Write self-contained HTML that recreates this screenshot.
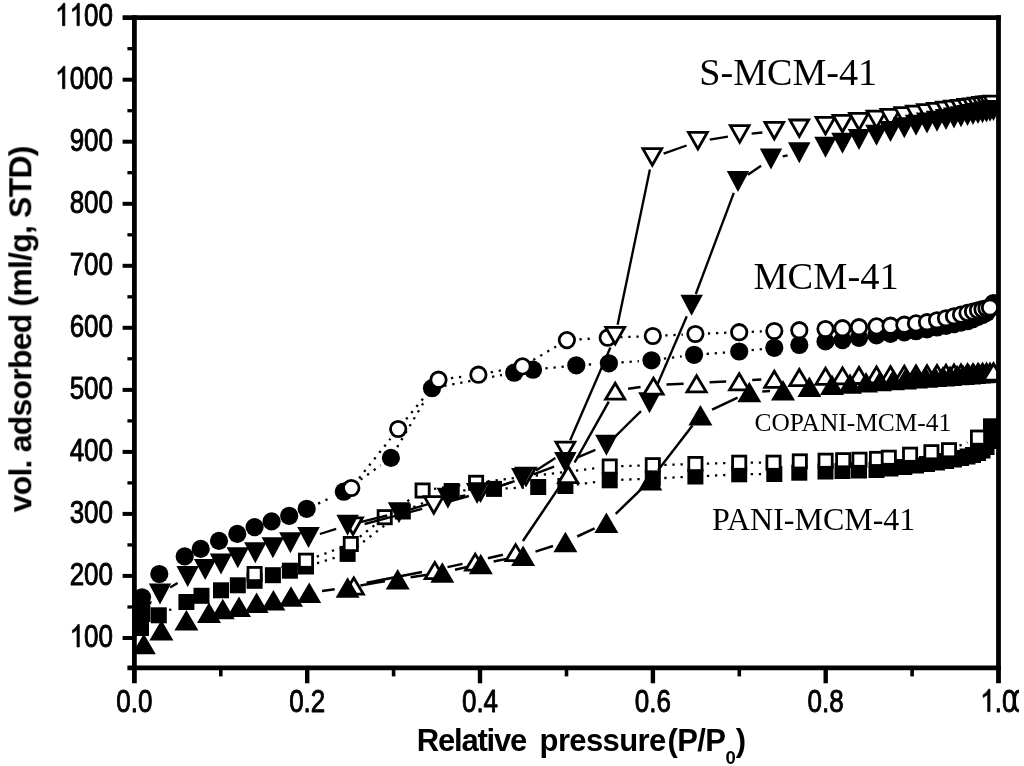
<!DOCTYPE html>
<html><head><meta charset="utf-8"><title>chart</title>
<style>html,body{margin:0;padding:0;background:#fff;}svg{display:block;}text{font-family:"Liberation Sans",sans-serif;fill:#000;}.ser{font-family:"Liberation Serif",serif;}</style>
</head><body>
<svg width="1024" height="766" viewBox="0 0 1024 766">
<defs><clipPath id="cp"><rect x="0" y="0" width="1019" height="766"/></clipPath><clipPath id="plot"><rect x="134.4" y="17.6" width="864.1" height="650.3"/></clipPath><filter id="soft" x="0" y="0" width="1024" height="766" filterUnits="userSpaceOnUse"><feGaussianBlur stdDeviation="0.55"/></filter></defs>
<rect width="1024" height="766" fill="#fff"/>
<g filter="url(#soft)">
<g clip-path="url(#plot)">
<g id="mcm">
<line x1="318.1" y1="503.6" x2="332.4" y2="496.9" stroke="#000" stroke-width="2.3" stroke-dasharray="2.3 5.8" stroke-linecap="butt"/>
<line x1="354.0" y1="484.4" x2="380.7" y2="465.2" stroke="#000" stroke-width="2.3" stroke-dasharray="2.3 5.8" stroke-linecap="butt"/>
<line x1="397.2" y1="447.1" x2="425.7" y2="399.0" stroke="#000" stroke-width="2.3" stroke-dasharray="2.3 5.8" stroke-linecap="butt"/>
<line x1="444.3" y1="385.9" x2="501.9" y2="375.0" stroke="#000" stroke-width="2.3" stroke-dasharray="2.3 5.8" stroke-linecap="butt"/>
<line x1="545.4" y1="368.4" x2="563.9" y2="366.6" stroke="#000" stroke-width="2.3" stroke-dasharray="2.3 5.8" stroke-linecap="butt"/>
<line x1="588.8" y1="364.5" x2="596.4" y2="364.1" stroke="#000" stroke-width="2.3" stroke-dasharray="2.3 5.8" stroke-linecap="butt"/>
<line x1="621.4" y1="362.4" x2="639.0" y2="361.2" stroke="#000" stroke-width="2.3" stroke-dasharray="2.3 5.8" stroke-linecap="butt"/>
<line x1="663.9" y1="358.7" x2="681.7" y2="356.4" stroke="#000" stroke-width="2.3" stroke-dasharray="2.3 5.8" stroke-linecap="butt"/>
<line x1="706.6" y1="353.9" x2="726.7" y2="352.4" stroke="#000" stroke-width="2.3" stroke-dasharray="2.3 5.8" stroke-linecap="butt"/>
<line x1="751.6" y1="350.2" x2="761.9" y2="349.1" stroke="#000" stroke-width="2.3" stroke-dasharray="2.3 5.8" stroke-linecap="butt"/>
<line x1="359.1" y1="478.2" x2="390.4" y2="438.8" stroke="#000" stroke-width="2.3" stroke-dasharray="2.3 5.8" stroke-linecap="butt"/>
<line x1="406.1" y1="419.3" x2="430.6" y2="389.4" stroke="#000" stroke-width="2.3" stroke-dasharray="2.3 5.8" stroke-linecap="butt"/>
<line x1="450.9" y1="378.1" x2="466.0" y2="376.3" stroke="#000" stroke-width="2.3" stroke-dasharray="2.3 5.8" stroke-linecap="butt"/>
<line x1="490.7" y1="372.4" x2="510.2" y2="368.7" stroke="#000" stroke-width="2.3" stroke-dasharray="2.3 5.8" stroke-linecap="butt"/>
<line x1="533.3" y1="360.0" x2="556.1" y2="346.5" stroke="#000" stroke-width="2.3" stroke-dasharray="2.3 5.8" stroke-linecap="butt"/>
<line x1="579.4" y1="339.4" x2="595.2" y2="338.4" stroke="#000" stroke-width="2.3" stroke-dasharray="2.3 5.8" stroke-linecap="butt"/>
<line x1="620.2" y1="337.2" x2="640.3" y2="336.5" stroke="#000" stroke-width="2.3" stroke-dasharray="2.3 5.8" stroke-linecap="butt"/>
<line x1="665.3" y1="335.4" x2="682.9" y2="334.6" stroke="#000" stroke-width="2.3" stroke-dasharray="2.3 5.8" stroke-linecap="butt"/>
<line x1="707.9" y1="333.5" x2="726.7" y2="332.7" stroke="#000" stroke-width="2.3" stroke-dasharray="2.3 5.8" stroke-linecap="butt"/>
<line x1="751.7" y1="331.8" x2="761.8" y2="331.4" stroke="#000" stroke-width="2.3" stroke-dasharray="2.3 5.8" stroke-linecap="butt"/>
<circle cx="142.0" cy="597.3" r="9.1" fill="#000"/>
<circle cx="159.3" cy="574.0" r="9.1" fill="#000"/>
<circle cx="184.7" cy="556.4" r="9.1" fill="#000"/>
<circle cx="200.7" cy="548.9" r="9.1" fill="#000"/>
<circle cx="219.0" cy="540.9" r="9.1" fill="#000"/>
<circle cx="237.3" cy="533.9" r="9.1" fill="#000"/>
<circle cx="254.6" cy="527.1" r="9.1" fill="#000"/>
<circle cx="271.6" cy="521.4" r="9.1" fill="#000"/>
<circle cx="289.2" cy="515.8" r="9.1" fill="#000"/>
<circle cx="306.7" cy="508.8" r="9.1" fill="#000"/>
<circle cx="343.8" cy="491.7" r="9.1" fill="#000"/>
<circle cx="390.9" cy="457.9" r="9.1" fill="#000"/>
<circle cx="432.0" cy="388.2" r="9.1" fill="#000"/>
<circle cx="514.2" cy="372.7" r="9.1" fill="#000"/>
<circle cx="533.0" cy="369.7" r="9.1" fill="#000"/>
<circle cx="576.3" cy="365.3" r="9.1" fill="#000"/>
<circle cx="608.9" cy="363.3" r="9.1" fill="#000"/>
<circle cx="651.5" cy="360.3" r="9.1" fill="#000"/>
<circle cx="694.1" cy="354.8" r="9.1" fill="#000"/>
<circle cx="739.2" cy="351.5" r="9.1" fill="#000"/>
<circle cx="774.3" cy="347.8" r="9.1" fill="#000"/>
<circle cx="799.3" cy="345.0" r="9.1" fill="#000"/>
<circle cx="825.5" cy="341.4" r="9.1" fill="#000"/>
<circle cx="842.5" cy="340.1" r="9.1" fill="#000"/>
<circle cx="859.0" cy="337.8" r="9.1" fill="#000"/>
<circle cx="876.5" cy="335.3" r="9.1" fill="#000"/>
<circle cx="890.5" cy="333.8" r="9.1" fill="#000"/>
<circle cx="904.3" cy="332.4" r="9.1" fill="#000"/>
<circle cx="916.0" cy="331.2" r="9.1" fill="#000"/>
<circle cx="927.0" cy="329.3" r="9.1" fill="#000"/>
<circle cx="937.0" cy="327.5" r="9.1" fill="#000"/>
<circle cx="946.0" cy="325.8" r="9.1" fill="#000"/>
<circle cx="954.0" cy="324.1" r="9.1" fill="#000"/>
<circle cx="961.0" cy="322.6" r="9.1" fill="#000"/>
<circle cx="967.5" cy="321.2" r="9.1" fill="#000"/>
<circle cx="973.0" cy="319.1" r="9.1" fill="#000"/>
<circle cx="978.0" cy="316.9" r="9.1" fill="#000"/>
<circle cx="982.5" cy="315.0" r="9.1" fill="#000"/>
<circle cx="986.5" cy="312.9" r="9.1" fill="#000"/>
<circle cx="990.0" cy="308.5" r="9.1" fill="#000"/>
<circle cx="993.5" cy="303.0" r="9.1" fill="#000"/>
<circle cx="351.3" cy="488.0" r="7.7" fill="#fff" stroke="#000" stroke-width="2.8"/>
<circle cx="398.2" cy="429.0" r="7.7" fill="#fff" stroke="#000" stroke-width="2.8"/>
<circle cx="438.5" cy="379.7" r="7.7" fill="#fff" stroke="#000" stroke-width="2.8"/>
<circle cx="478.4" cy="374.7" r="7.7" fill="#fff" stroke="#000" stroke-width="2.8"/>
<circle cx="522.5" cy="366.4" r="7.7" fill="#fff" stroke="#000" stroke-width="2.8"/>
<circle cx="566.9" cy="340.1" r="7.7" fill="#fff" stroke="#000" stroke-width="2.8"/>
<circle cx="607.7" cy="337.7" r="7.7" fill="#fff" stroke="#000" stroke-width="2.8"/>
<circle cx="652.8" cy="336.0" r="7.7" fill="#fff" stroke="#000" stroke-width="2.8"/>
<circle cx="695.4" cy="334.0" r="7.7" fill="#fff" stroke="#000" stroke-width="2.8"/>
<circle cx="739.2" cy="332.2" r="7.7" fill="#fff" stroke="#000" stroke-width="2.8"/>
<circle cx="774.3" cy="331.0" r="7.7" fill="#fff" stroke="#000" stroke-width="2.8"/>
<circle cx="799.3" cy="330.2" r="7.7" fill="#fff" stroke="#000" stroke-width="2.8"/>
<circle cx="825.5" cy="329.0" r="7.7" fill="#fff" stroke="#000" stroke-width="2.8"/>
<circle cx="842.5" cy="328.2" r="7.7" fill="#fff" stroke="#000" stroke-width="2.8"/>
<circle cx="859.0" cy="327.2" r="7.7" fill="#fff" stroke="#000" stroke-width="2.8"/>
<circle cx="876.5" cy="326.4" r="7.7" fill="#fff" stroke="#000" stroke-width="2.8"/>
<circle cx="890.5" cy="325.7" r="7.7" fill="#fff" stroke="#000" stroke-width="2.8"/>
<circle cx="904.3" cy="324.7" r="7.7" fill="#fff" stroke="#000" stroke-width="2.8"/>
<circle cx="916.0" cy="323.4" r="7.7" fill="#fff" stroke="#000" stroke-width="2.8"/>
<circle cx="927.0" cy="322.2" r="7.7" fill="#fff" stroke="#000" stroke-width="2.8"/>
<circle cx="937.0" cy="320.3" r="7.7" fill="#fff" stroke="#000" stroke-width="2.8"/>
<circle cx="946.0" cy="318.3" r="7.7" fill="#fff" stroke="#000" stroke-width="2.8"/>
<circle cx="954.0" cy="316.3" r="7.7" fill="#fff" stroke="#000" stroke-width="2.8"/>
<circle cx="961.0" cy="314.6" r="7.7" fill="#fff" stroke="#000" stroke-width="2.8"/>
<circle cx="967.5" cy="312.9" r="7.7" fill="#fff" stroke="#000" stroke-width="2.8"/>
<circle cx="973.0" cy="311.5" r="7.7" fill="#fff" stroke="#000" stroke-width="2.8"/>
<circle cx="978.0" cy="310.3" r="7.7" fill="#fff" stroke="#000" stroke-width="2.8"/>
<circle cx="982.5" cy="309.2" r="7.7" fill="#fff" stroke="#000" stroke-width="2.8"/>
<circle cx="986.5" cy="308.3" r="7.7" fill="#fff" stroke="#000" stroke-width="2.8"/>
<circle cx="990.0" cy="307.5" r="7.7" fill="#fff" stroke="#000" stroke-width="2.8"/>
</g>
<g id="pani">
<line x1="169.2" y1="610.3" x2="176.0" y2="607.0" stroke="#000" stroke-width="2.3" stroke-dasharray="2.3 5.8" stroke-linecap="butt"/>
<line x1="317.0" y1="563.2" x2="336.6" y2="557.2" stroke="#000" stroke-width="2.3" stroke-dasharray="2.3 5.8" stroke-linecap="butt"/>
<line x1="356.7" y1="546.9" x2="393.7" y2="518.5" stroke="#000" stroke-width="2.3" stroke-dasharray="2.3 5.8" stroke-linecap="butt"/>
<line x1="413.4" y1="507.1" x2="441.1" y2="495.4" stroke="#000" stroke-width="2.3" stroke-dasharray="2.3 5.8" stroke-linecap="butt"/>
<line x1="463.2" y1="490.4" x2="482.5" y2="489.5" stroke="#000" stroke-width="2.3" stroke-dasharray="2.3 5.8" stroke-linecap="butt"/>
<line x1="505.5" y1="488.4" x2="526.7" y2="487.5" stroke="#000" stroke-width="2.3" stroke-dasharray="2.3 5.8" stroke-linecap="butt"/>
<line x1="576.8" y1="484.5" x2="598.3" y2="481.8" stroke="#000" stroke-width="2.3" stroke-dasharray="2.3 5.8" stroke-linecap="butt"/>
<line x1="621.2" y1="479.8" x2="641.3" y2="479.0" stroke="#000" stroke-width="2.3" stroke-dasharray="2.3 5.8" stroke-linecap="butt"/>
<line x1="664.3" y1="478.0" x2="683.9" y2="477.0" stroke="#000" stroke-width="2.3" stroke-dasharray="2.3 5.8" stroke-linecap="butt"/>
<line x1="706.9" y1="475.9" x2="727.7" y2="474.9" stroke="#000" stroke-width="2.3" stroke-dasharray="2.3 5.8" stroke-linecap="butt"/>
<line x1="750.7" y1="474.2" x2="762.8" y2="474.1" stroke="#000" stroke-width="2.3" stroke-dasharray="2.3 5.8" stroke-linecap="butt"/>
<line x1="265.7" y1="571.1" x2="294.9" y2="563.6" stroke="#000" stroke-width="2.3" stroke-dasharray="2.3 5.8" stroke-linecap="butt"/>
<line x1="316.8" y1="556.7" x2="340.0" y2="548.0" stroke="#000" stroke-width="2.3" stroke-dasharray="2.3 5.8" stroke-linecap="butt"/>
<line x1="359.8" y1="536.9" x2="375.7" y2="524.3" stroke="#000" stroke-width="2.3" stroke-dasharray="2.3 5.8" stroke-linecap="butt"/>
<line x1="394.1" y1="510.6" x2="413.2" y2="497.1" stroke="#000" stroke-width="2.3" stroke-dasharray="2.3 5.8" stroke-linecap="butt"/>
<line x1="434.0" y1="488.9" x2="464.7" y2="484.4" stroke="#000" stroke-width="2.3" stroke-dasharray="2.3 5.8" stroke-linecap="butt"/>
<line x1="487.5" y1="481.4" x2="598.3" y2="467.9" stroke="#000" stroke-width="2.3" stroke-dasharray="2.3 5.8" stroke-linecap="butt"/>
<line x1="621.2" y1="466.2" x2="641.3" y2="465.5" stroke="#000" stroke-width="2.3" stroke-dasharray="2.3 5.8" stroke-linecap="butt"/>
<line x1="664.3" y1="464.9" x2="683.9" y2="464.3" stroke="#000" stroke-width="2.3" stroke-dasharray="2.3 5.8" stroke-linecap="butt"/>
<line x1="706.9" y1="463.7" x2="727.7" y2="463.0" stroke="#000" stroke-width="2.3" stroke-dasharray="2.3 5.8" stroke-linecap="butt"/>
<line x1="750.7" y1="462.7" x2="762.0" y2="462.7" stroke="#000" stroke-width="2.3" stroke-dasharray="2.3 5.8" stroke-linecap="butt"/>
<line x1="959.5" y1="445.6" x2="967.5" y2="442.2" stroke="#000" stroke-width="2.3" stroke-dasharray="2.3 5.8" stroke-linecap="butt"/>
<rect x="133.0" y="620.0" width="16.0" height="16.0" fill="#000"/>
<rect x="134.5" y="606.0" width="16.0" height="16.0" fill="#000"/>
<rect x="150.8" y="607.3" width="16.0" height="16.0" fill="#000"/>
<rect x="178.4" y="594.0" width="16.0" height="16.0" fill="#000"/>
<rect x="193.5" y="587.8" width="16.0" height="16.0" fill="#000"/>
<rect x="213.0" y="582.3" width="16.0" height="16.0" fill="#000"/>
<rect x="229.8" y="577.3" width="16.0" height="16.0" fill="#000"/>
<rect x="246.6" y="572.8" width="16.0" height="16.0" fill="#000"/>
<rect x="264.9" y="567.2" width="16.0" height="16.0" fill="#000"/>
<rect x="281.9" y="562.7" width="16.0" height="16.0" fill="#000"/>
<rect x="298.0" y="558.5" width="16.0" height="16.0" fill="#000"/>
<rect x="339.6" y="545.9" width="16.0" height="16.0" fill="#000"/>
<rect x="394.8" y="503.5" width="16.0" height="16.0" fill="#000"/>
<rect x="443.7" y="483.0" width="16.0" height="16.0" fill="#000"/>
<rect x="486.0" y="480.9" width="16.0" height="16.0" fill="#000"/>
<rect x="530.2" y="479.0" width="16.0" height="16.0" fill="#000"/>
<rect x="557.4" y="478.0" width="16.0" height="16.0" fill="#000"/>
<rect x="601.7" y="472.3" width="16.0" height="16.0" fill="#000"/>
<rect x="644.8" y="470.5" width="16.0" height="16.0" fill="#000"/>
<rect x="687.4" y="468.5" width="16.0" height="16.0" fill="#000"/>
<rect x="731.2" y="466.3" width="16.0" height="16.0" fill="#000"/>
<rect x="766.3" y="466.0" width="16.0" height="16.0" fill="#000"/>
<rect x="791.3" y="464.7" width="16.0" height="16.0" fill="#000"/>
<rect x="817.5" y="463.5" width="16.0" height="16.0" fill="#000"/>
<rect x="834.5" y="463.0" width="16.0" height="16.0" fill="#000"/>
<rect x="851.0" y="462.5" width="16.0" height="16.0" fill="#000"/>
<rect x="868.5" y="462.0" width="16.0" height="16.0" fill="#000"/>
<rect x="882.5" y="460.5" width="16.0" height="16.0" fill="#000"/>
<rect x="896.3" y="459.0" width="16.0" height="16.0" fill="#000"/>
<rect x="908.0" y="457.5" width="16.0" height="16.0" fill="#000"/>
<rect x="919.0" y="456.0" width="16.0" height="16.0" fill="#000"/>
<rect x="929.0" y="454.5" width="16.0" height="16.0" fill="#000"/>
<rect x="938.0" y="453.0" width="16.0" height="16.0" fill="#000"/>
<rect x="946.0" y="451.5" width="16.0" height="16.0" fill="#000"/>
<rect x="953.0" y="450.0" width="16.0" height="16.0" fill="#000"/>
<rect x="959.5" y="448.5" width="16.0" height="16.0" fill="#000"/>
<rect x="965.0" y="447.0" width="16.0" height="16.0" fill="#000"/>
<rect x="970.0" y="445.0" width="16.0" height="16.0" fill="#000"/>
<rect x="974.5" y="442.5" width="16.0" height="16.0" fill="#000"/>
<rect x="978.5" y="439.0" width="16.0" height="16.0" fill="#000"/>
<rect x="981.0" y="433.0" width="16.0" height="16.0" fill="#000"/>
<rect x="983.0" y="418.3" width="16.0" height="16.0" fill="#000"/>
<rect x="248.0" y="567.4" width="13.2" height="13.2" fill="#fff" stroke="#000" stroke-width="2.8"/>
<rect x="299.4" y="554.1" width="13.2" height="13.2" fill="#fff" stroke="#000" stroke-width="2.8"/>
<rect x="344.2" y="537.4" width="13.2" height="13.2" fill="#fff" stroke="#000" stroke-width="2.8"/>
<rect x="378.1" y="510.6" width="13.2" height="13.2" fill="#fff" stroke="#000" stroke-width="2.8"/>
<rect x="416.0" y="483.9" width="13.2" height="13.2" fill="#fff" stroke="#000" stroke-width="2.8"/>
<rect x="469.5" y="476.2" width="13.2" height="13.2" fill="#fff" stroke="#000" stroke-width="2.8"/>
<rect x="603.1" y="459.9" width="13.2" height="13.2" fill="#fff" stroke="#000" stroke-width="2.8"/>
<rect x="646.2" y="458.6" width="13.2" height="13.2" fill="#fff" stroke="#000" stroke-width="2.8"/>
<rect x="688.8" y="457.4" width="13.2" height="13.2" fill="#fff" stroke="#000" stroke-width="2.8"/>
<rect x="732.6" y="456.1" width="13.2" height="13.2" fill="#fff" stroke="#000" stroke-width="2.8"/>
<rect x="766.9" y="456.1" width="13.2" height="13.2" fill="#fff" stroke="#000" stroke-width="2.8"/>
<rect x="793.2" y="454.8" width="13.2" height="13.2" fill="#fff" stroke="#000" stroke-width="2.8"/>
<rect x="819.0" y="454.1" width="13.2" height="13.2" fill="#fff" stroke="#000" stroke-width="2.8"/>
<rect x="836.6" y="453.6" width="13.2" height="13.2" fill="#fff" stroke="#000" stroke-width="2.8"/>
<rect x="852.9" y="453.1" width="13.2" height="13.2" fill="#fff" stroke="#000" stroke-width="2.8"/>
<rect x="870.4" y="452.3" width="13.2" height="13.2" fill="#fff" stroke="#000" stroke-width="2.8"/>
<rect x="882.2" y="451.1" width="13.2" height="13.2" fill="#fff" stroke="#000" stroke-width="2.8"/>
<rect x="903.5" y="448.1" width="13.2" height="13.2" fill="#fff" stroke="#000" stroke-width="2.8"/>
<rect x="924.8" y="445.6" width="13.2" height="13.2" fill="#fff" stroke="#000" stroke-width="2.8"/>
<rect x="942.4" y="443.6" width="13.2" height="13.2" fill="#fff" stroke="#000" stroke-width="2.8"/>
<rect x="971.4" y="431.0" width="13.2" height="13.2" fill="#fff" stroke="#000" stroke-width="2.8"/>
</g>
<g id="smcm">
<line x1="170.1" y1="587.6" x2="177.6" y2="582.9" stroke="#000" stroke-width="2.35"/>
<line x1="319.9" y1="534.0" x2="336.2" y2="528.8" stroke="#000" stroke-width="2.35"/>
<line x1="359.3" y1="522.4" x2="387.3" y2="515.5" stroke="#000" stroke-width="2.35"/>
<line x1="410.5" y1="509.3" x2="436.4" y2="501.7" stroke="#000" stroke-width="2.35"/>
<line x1="459.7" y1="496.4" x2="465.3" y2="495.5" stroke="#000" stroke-width="2.35"/>
<line x1="488.5" y1="489.8" x2="510.8" y2="482.3" stroke="#000" stroke-width="2.35"/>
<line x1="533.5" y1="474.4" x2="554.1" y2="466.7" stroke="#000" stroke-width="2.35"/>
<line x1="576.4" y1="457.9" x2="595.4" y2="449.9" stroke="#000" stroke-width="2.35"/>
<line x1="614.9" y1="436.8" x2="641.0" y2="411.1" stroke="#000" stroke-width="2.35"/>
<line x1="654.3" y1="391.7" x2="686.8" y2="316.2" stroke="#000" stroke-width="2.35"/>
<line x1="695.8" y1="294.0" x2="733.8" y2="192.8" stroke="#000" stroke-width="2.35"/>
<line x1="747.9" y1="174.8" x2="761.1" y2="165.8" stroke="#000" stroke-width="2.35"/>
<line x1="782.7" y1="156.4" x2="787.6" y2="155.4" stroke="#000" stroke-width="2.35"/>
<line x1="364.6" y1="524.0" x2="422.2" y2="508.8" stroke="#000" stroke-width="2.35"/>
<line x1="445.4" y1="502.6" x2="468.9" y2="496.0" stroke="#000" stroke-width="2.35"/>
<line x1="491.9" y1="488.9" x2="514.6" y2="481.1" stroke="#000" stroke-width="2.35"/>
<line x1="536.0" y1="470.6" x2="555.4" y2="457.9" stroke="#000" stroke-width="2.35"/>
<line x1="570.2" y1="440.3" x2="610.4" y2="347.5" stroke="#000" stroke-width="2.35"/>
<line x1="617.6" y1="324.8" x2="649.9" y2="169.4" stroke="#000" stroke-width="2.35"/>
<line x1="663.6" y1="153.7" x2="686.6" y2="145.5" stroke="#000" stroke-width="2.35"/>
<line x1="709.7" y1="139.6" x2="727.9" y2="136.6" stroke="#000" stroke-width="2.35"/>
<line x1="751.6" y1="133.6" x2="762.4" y2="132.5" stroke="#000" stroke-width="2.35"/>
<polygon points="343.6,517.9 362.4,517.9 353.0,534.4" fill="#fff" stroke="#000" stroke-width="2.8" stroke-linejoin="miter"/>
<polygon points="424.4,496.7 443.2,496.7 433.8,513.2" fill="#fff" stroke="#000" stroke-width="2.8" stroke-linejoin="miter"/>
<polygon points="471.1,483.7 489.9,483.7 480.5,500.2" fill="#fff" stroke="#000" stroke-width="2.8" stroke-linejoin="miter"/>
<polygon points="516.6,468.1 535.4,468.1 526.0,484.6" fill="#fff" stroke="#000" stroke-width="2.8" stroke-linejoin="miter"/>
<polygon points="556.0,442.2 574.8,442.2 565.4,458.7" fill="#fff" stroke="#000" stroke-width="2.8" stroke-linejoin="miter"/>
<polygon points="605.8,327.4 624.6,327.4 615.2,343.9" fill="#fff" stroke="#000" stroke-width="2.8" stroke-linejoin="miter"/>
<polygon points="642.9,148.6 661.7,148.6 652.3,165.1" fill="#fff" stroke="#000" stroke-width="2.8" stroke-linejoin="miter"/>
<polygon points="688.5,132.4 707.3,132.4 697.9,148.9" fill="#fff" stroke="#000" stroke-width="2.8" stroke-linejoin="miter"/>
<polygon points="730.3,125.6 749.1,125.6 739.7,142.1" fill="#fff" stroke="#000" stroke-width="2.8" stroke-linejoin="miter"/>
<polygon points="764.9,122.3 783.7,122.3 774.3,138.8" fill="#fff" stroke="#000" stroke-width="2.8" stroke-linejoin="miter"/>
<polygon points="789.9,120.0 808.7,120.0 799.3,136.5" fill="#fff" stroke="#000" stroke-width="2.8" stroke-linejoin="miter"/>
<polygon points="816.1,117.4 834.9,117.4 825.5,133.9" fill="#fff" stroke="#000" stroke-width="2.8" stroke-linejoin="miter"/>
<polygon points="833.1,115.3 851.9,115.3 842.5,131.8" fill="#fff" stroke="#000" stroke-width="2.8" stroke-linejoin="miter"/>
<polygon points="849.6,113.3 868.4,113.3 859.0,129.8" fill="#fff" stroke="#000" stroke-width="2.8" stroke-linejoin="miter"/>
<polygon points="867.1,111.1 885.9,111.1 876.5,127.6" fill="#fff" stroke="#000" stroke-width="2.8" stroke-linejoin="miter"/>
<polygon points="881.1,109.4 899.9,109.4 890.5,125.9" fill="#fff" stroke="#000" stroke-width="2.8" stroke-linejoin="miter"/>
<polygon points="894.9,107.6 913.7,107.6 904.3,124.1" fill="#fff" stroke="#000" stroke-width="2.8" stroke-linejoin="miter"/>
<polygon points="906.6,106.1 925.4,106.1 916.0,122.6" fill="#fff" stroke="#000" stroke-width="2.8" stroke-linejoin="miter"/>
<polygon points="917.6,104.7 936.4,104.7 927.0,121.2" fill="#fff" stroke="#000" stroke-width="2.8" stroke-linejoin="miter"/>
<polygon points="927.6,103.4 946.4,103.4 937.0,119.9" fill="#fff" stroke="#000" stroke-width="2.8" stroke-linejoin="miter"/>
<polygon points="936.6,102.2 955.4,102.2 946.0,118.8" fill="#fff" stroke="#000" stroke-width="2.8" stroke-linejoin="miter"/>
<polygon points="944.6,101.2 963.4,101.2 954.0,117.7" fill="#fff" stroke="#000" stroke-width="2.8" stroke-linejoin="miter"/>
<polygon points="951.6,100.3 970.4,100.3 961.0,116.8" fill="#fff" stroke="#000" stroke-width="2.8" stroke-linejoin="miter"/>
<polygon points="958.1,99.5 976.9,99.5 967.5,116.0" fill="#fff" stroke="#000" stroke-width="2.8" stroke-linejoin="miter"/>
<polygon points="963.6,98.8 982.4,98.8 973.0,115.3" fill="#fff" stroke="#000" stroke-width="2.8" stroke-linejoin="miter"/>
<polygon points="968.6,98.1 987.4,98.1 978.0,114.6" fill="#fff" stroke="#000" stroke-width="2.8" stroke-linejoin="miter"/>
<polygon points="973.1,97.5 991.9,97.5 982.5,114.1" fill="#fff" stroke="#000" stroke-width="2.8" stroke-linejoin="miter"/>
<polygon points="977.1,97.0 995.9,97.0 986.5,113.5" fill="#fff" stroke="#000" stroke-width="2.8" stroke-linejoin="miter"/>
<polygon points="980.6,96.6 999.4,96.6 990.0,113.1" fill="#fff" stroke="#000" stroke-width="2.8" stroke-linejoin="miter"/>
<polygon points="984.1,96.1 1002.9,96.1 993.5,112.6" fill="#fff" stroke="#000" stroke-width="2.8" stroke-linejoin="miter"/>
<polygon points="129.8,601.5 152.2,601.5 141.0,622.5" fill="#000"/>
<polygon points="148.8,583.5 171.2,583.5 160.0,604.5" fill="#000"/>
<polygon points="176.4,566.0 198.9,566.0 187.7,587.0" fill="#000"/>
<polygon points="193.9,559.0 216.4,559.0 205.2,580.0" fill="#000"/>
<polygon points="209.8,553.5 232.2,553.5 221.0,574.5" fill="#000"/>
<polygon points="226.6,547.2 249.1,547.2 237.8,568.2" fill="#000"/>
<polygon points="244.1,542.2 266.6,542.2 255.3,563.2" fill="#000"/>
<polygon points="261.6,537.2 284.1,537.2 272.9,558.2" fill="#000"/>
<polygon points="279.1,532.2 301.6,532.2 290.4,553.2" fill="#000"/>
<polygon points="297.2,527.1 319.8,527.1 308.5,548.1" fill="#000"/>
<polygon points="336.4,514.7 358.9,514.7 347.6,535.7" fill="#000"/>
<polygon points="387.8,502.2 410.2,502.2 399.0,523.2" fill="#000"/>
<polygon points="436.6,487.8 459.1,487.8 447.9,508.8" fill="#000"/>
<polygon points="465.9,483.1 488.4,483.1 477.1,504.1" fill="#000"/>
<polygon points="511.0,468.0 533.5,468.0 522.2,489.0" fill="#000"/>
<polygon points="554.1,452.1 576.6,452.1 565.4,473.1" fill="#000"/>
<polygon points="595.1,434.7 617.6,434.7 606.4,455.7" fill="#000"/>
<polygon points="638.2,392.2 660.8,392.2 649.5,413.2" fill="#000"/>
<polygon points="680.4,294.7 702.9,294.7 691.6,315.7" fill="#000"/>
<polygon points="726.8,171.1 749.2,171.1 738.0,192.1" fill="#000"/>
<polygon points="759.8,148.5 782.2,148.5 771.0,169.5" fill="#000"/>
<polygon points="788.0,142.3 810.5,142.3 799.3,163.3" fill="#000"/>
<polygon points="814.2,136.8 836.8,136.8 825.5,157.8" fill="#000"/>
<polygon points="831.2,132.8 853.8,132.8 842.5,153.8" fill="#000"/>
<polygon points="847.8,128.9 870.2,128.9 859.0,149.9" fill="#000"/>
<polygon points="865.2,124.8 887.8,124.8 876.5,145.8" fill="#000"/>
<polygon points="879.2,121.1 901.8,121.1 890.5,142.1" fill="#000"/>
<polygon points="893.0,117.3 915.5,117.3 904.3,138.3" fill="#000"/>
<polygon points="904.8,114.7 927.2,114.7 916.0,135.7" fill="#000"/>
<polygon points="915.8,112.6 938.2,112.6 927.0,133.6" fill="#000"/>
<polygon points="925.8,110.7 948.2,110.7 937.0,131.7" fill="#000"/>
<polygon points="934.8,109.0 957.2,109.0 946.0,130.0" fill="#000"/>
<polygon points="942.8,107.5 965.2,107.5 954.0,128.5" fill="#000"/>
<polygon points="949.8,106.2 972.2,106.2 961.0,127.2" fill="#000"/>
<polygon points="956.2,105.0 978.8,105.0 967.5,126.0" fill="#000"/>
<polygon points="961.8,104.0 984.2,104.0 973.0,125.0" fill="#000"/>
<polygon points="966.8,103.0 989.2,103.0 978.0,124.0" fill="#000"/>
<polygon points="971.2,102.2 993.8,102.2 982.5,123.2" fill="#000"/>
<polygon points="975.2,101.4 997.8,101.4 986.5,122.4" fill="#000"/>
<polygon points="978.8,100.7 1001.2,100.7 990.0,121.7" fill="#000"/>
<polygon points="982.2,100.0 1004.8,100.0 993.5,121.0" fill="#000"/>
</g>
<g id="copani">
<line x1="322.1" y1="591.0" x2="334.7" y2="589.3" stroke="#000" stroke-width="2.5"/>
<line x1="360.4" y1="585.4" x2="384.9" y2="581.2" stroke="#000" stroke-width="2.5"/>
<line x1="410.6" y1="577.2" x2="429.4" y2="574.4" stroke="#000" stroke-width="2.5"/>
<line x1="455.0" y1="569.7" x2="468.1" y2="566.8" stroke="#000" stroke-width="2.5"/>
<line x1="493.6" y1="561.5" x2="510.3" y2="558.1" stroke="#000" stroke-width="2.5"/>
<line x1="535.5" y1="551.6" x2="553.0" y2="546.0" stroke="#000" stroke-width="2.5"/>
<line x1="577.2" y1="536.5" x2="594.6" y2="528.4" stroke="#000" stroke-width="2.5"/>
<line x1="615.7" y1="513.8" x2="641.0" y2="489.4" stroke="#000" stroke-width="2.5"/>
<line x1="658.2" y1="470.0" x2="692.5" y2="425.5" stroke="#000" stroke-width="2.5"/>
<line x1="712.1" y1="409.6" x2="737.6" y2="397.6" stroke="#000" stroke-width="2.5"/>
<line x1="762.3" y1="391.4" x2="770.0" y2="391.0" stroke="#000" stroke-width="2.5"/>
<line x1="366.6" y1="582.8" x2="422.0" y2="572.1" stroke="#000" stroke-width="2.5"/>
<line x1="447.5" y1="567.1" x2="462.5" y2="563.9" stroke="#000" stroke-width="2.5"/>
<line x1="487.9" y1="558.3" x2="502.9" y2="554.8" stroke="#000" stroke-width="2.5"/>
<line x1="522.9" y1="541.0" x2="560.9" y2="484.6" stroke="#000" stroke-width="2.5"/>
<line x1="574.6" y1="462.5" x2="608.8" y2="401.7" stroke="#000" stroke-width="2.5"/>
<line x1="628.1" y1="388.7" x2="640.6" y2="387.1" stroke="#000" stroke-width="2.5"/>
<line x1="666.5" y1="384.6" x2="683.6" y2="383.7" stroke="#000" stroke-width="2.5"/>
<line x1="709.6" y1="382.3" x2="726.2" y2="381.5" stroke="#000" stroke-width="2.5"/>
<line x1="752.2" y1="380.0" x2="761.3" y2="379.4" stroke="#000" stroke-width="2.5"/>
<polygon points="344.2,594.1 363.4,594.1 353.8,578.0" fill="#fff" stroke="#000" stroke-width="2.8" stroke-linejoin="miter"/>
<polygon points="425.2,578.6 444.4,578.6 434.8,562.5" fill="#fff" stroke="#000" stroke-width="2.8" stroke-linejoin="miter"/>
<polygon points="465.6,570.1 484.8,570.1 475.2,554.1" fill="#fff" stroke="#000" stroke-width="2.8" stroke-linejoin="miter"/>
<polygon points="506.0,560.6 525.2,560.6 515.6,544.6" fill="#fff" stroke="#000" stroke-width="2.8" stroke-linejoin="miter"/>
<polygon points="558.6,482.7 577.8,482.7 568.2,466.6" fill="#fff" stroke="#000" stroke-width="2.8" stroke-linejoin="miter"/>
<polygon points="605.6,399.2 624.8,399.2 615.2,383.2" fill="#fff" stroke="#000" stroke-width="2.8" stroke-linejoin="miter"/>
<polygon points="643.9,394.2 663.1,394.2 653.5,378.2" fill="#fff" stroke="#000" stroke-width="2.8" stroke-linejoin="miter"/>
<polygon points="687.0,391.8 706.2,391.8 696.6,375.7" fill="#fff" stroke="#000" stroke-width="2.8" stroke-linejoin="miter"/>
<polygon points="729.6,389.8 748.8,389.8 739.2,373.7" fill="#fff" stroke="#000" stroke-width="2.8" stroke-linejoin="miter"/>
<polygon points="764.7,387.4 783.9,387.4 774.3,371.3" fill="#fff" stroke="#000" stroke-width="2.8" stroke-linejoin="miter"/>
<polygon points="789.7,385.7 808.9,385.7 799.3,369.6" fill="#fff" stroke="#000" stroke-width="2.8" stroke-linejoin="miter"/>
<polygon points="815.9,384.4 835.1,384.4 825.5,368.3" fill="#fff" stroke="#000" stroke-width="2.8" stroke-linejoin="miter"/>
<polygon points="832.9,383.9 852.1,383.9 842.5,367.9" fill="#fff" stroke="#000" stroke-width="2.8" stroke-linejoin="miter"/>
<polygon points="849.4,383.5 868.6,383.5 859.0,367.5" fill="#fff" stroke="#000" stroke-width="2.8" stroke-linejoin="miter"/>
<polygon points="866.9,383.0 886.1,383.0 876.5,367.0" fill="#fff" stroke="#000" stroke-width="2.8" stroke-linejoin="miter"/>
<polygon points="880.9,382.7 900.1,382.7 890.5,366.7" fill="#fff" stroke="#000" stroke-width="2.8" stroke-linejoin="miter"/>
<polygon points="894.7,382.3 913.9,382.3 904.3,366.3" fill="#fff" stroke="#000" stroke-width="2.8" stroke-linejoin="miter"/>
<polygon points="906.4,382.0 925.6,382.0 916.0,366.0" fill="#fff" stroke="#000" stroke-width="2.8" stroke-linejoin="miter"/>
<polygon points="917.4,381.8 936.6,381.8 927.0,365.7" fill="#fff" stroke="#000" stroke-width="2.8" stroke-linejoin="miter"/>
<polygon points="927.4,381.5 946.6,381.5 937.0,365.5" fill="#fff" stroke="#000" stroke-width="2.8" stroke-linejoin="miter"/>
<polygon points="936.4,381.3 955.6,381.3 946.0,365.2" fill="#fff" stroke="#000" stroke-width="2.8" stroke-linejoin="miter"/>
<polygon points="944.4,381.1 963.6,381.1 954.0,365.0" fill="#fff" stroke="#000" stroke-width="2.8" stroke-linejoin="miter"/>
<polygon points="951.4,380.9 970.6,380.9 961.0,364.9" fill="#fff" stroke="#000" stroke-width="2.8" stroke-linejoin="miter"/>
<polygon points="957.9,380.7 977.1,380.7 967.5,364.7" fill="#fff" stroke="#000" stroke-width="2.8" stroke-linejoin="miter"/>
<polygon points="963.4,380.6 982.6,380.6 973.0,364.6" fill="#fff" stroke="#000" stroke-width="2.8" stroke-linejoin="miter"/>
<polygon points="968.4,380.4 987.6,380.4 978.0,364.4" fill="#fff" stroke="#000" stroke-width="2.8" stroke-linejoin="miter"/>
<polygon points="972.9,380.3 992.1,380.3 982.5,364.3" fill="#fff" stroke="#000" stroke-width="2.8" stroke-linejoin="miter"/>
<polygon points="976.9,380.2 996.1,380.2 986.5,364.2" fill="#fff" stroke="#000" stroke-width="2.8" stroke-linejoin="miter"/>
<polygon points="980.4,380.1 999.6,380.1 990.0,364.1" fill="#fff" stroke="#000" stroke-width="2.8" stroke-linejoin="miter"/>
<polygon points="983.9,380.1 1003.1,380.1 993.5,364.0" fill="#fff" stroke="#000" stroke-width="2.8" stroke-linejoin="miter"/>
<polygon points="131.8,654.2 155.8,654.2 143.8,633.8" fill="#000"/>
<polygon points="149.4,640.6 173.4,640.6 161.4,620.1" fill="#000"/>
<polygon points="174.4,630.6 198.4,630.6 186.4,610.1" fill="#000"/>
<polygon points="197.0,623.0 221.0,623.0 209.0,602.5" fill="#000"/>
<polygon points="210.8,619.2 234.8,619.2 222.8,598.8" fill="#000"/>
<polygon points="227.0,616.9 251.0,616.9 239.0,596.4" fill="#000"/>
<polygon points="244.6,613.0 268.6,613.0 256.6,592.5" fill="#000"/>
<polygon points="261.4,610.5 285.4,610.5 273.4,590.0" fill="#000"/>
<polygon points="279.0,606.8 303.0,606.8 291.0,586.2" fill="#000"/>
<polygon points="297.2,603.0 321.2,603.0 309.2,582.5" fill="#000"/>
<polygon points="335.6,597.8 359.6,597.8 347.6,577.2" fill="#000"/>
<polygon points="385.7,589.4 409.7,589.4 397.7,568.9" fill="#000"/>
<polygon points="430.3,582.8 454.3,582.8 442.3,562.2" fill="#000"/>
<polygon points="468.8,574.2 492.8,574.2 480.8,553.8" fill="#000"/>
<polygon points="511.1,565.9 535.1,565.9 523.1,545.4" fill="#000"/>
<polygon points="553.4,552.2 577.4,552.2 565.4,531.8" fill="#000"/>
<polygon points="594.4,533.1 618.4,533.1 606.4,512.6" fill="#000"/>
<polygon points="638.3,490.6 662.3,490.6 650.3,470.1" fill="#000"/>
<polygon points="688.4,425.4 712.4,425.4 700.4,404.9" fill="#000"/>
<polygon points="737.3,402.2 761.3,402.2 749.3,381.8" fill="#000"/>
<polygon points="771.0,400.6 795.0,400.6 783.0,380.1" fill="#000"/>
<polygon points="797.4,396.9 821.4,396.9 809.4,376.4" fill="#000"/>
<polygon points="820.0,395.1 844.0,395.1 832.0,374.6" fill="#000"/>
<polygon points="838.0,393.7 862.0,393.7 850.0,373.2" fill="#000"/>
<polygon points="854.0,392.4 878.0,392.4 866.0,371.9" fill="#000"/>
<polygon points="868.0,391.3 892.0,391.3 880.0,370.8" fill="#000"/>
<polygon points="881.0,390.3 905.0,390.3 893.0,369.8" fill="#000"/>
<polygon points="893.0,389.4 917.0,389.4 905.0,368.9" fill="#000"/>
<polygon points="904.0,388.5 928.0,388.5 916.0,368.0" fill="#000"/>
<polygon points="914.0,387.8 938.0,387.8 926.0,367.3" fill="#000"/>
<polygon points="923.0,387.1 947.0,387.1 935.0,366.6" fill="#000"/>
<polygon points="931.0,386.4 955.0,386.4 943.0,365.9" fill="#000"/>
<polygon points="938.0,385.9 962.0,385.9 950.0,365.4" fill="#000"/>
<polygon points="945.0,385.3 969.0,385.3 957.0,364.8" fill="#000"/>
<polygon points="951.0,384.9 975.0,384.9 963.0,364.4" fill="#000"/>
<polygon points="957.0,384.4 981.0,384.4 969.0,363.9" fill="#000"/>
<polygon points="962.0,384.0 986.0,384.0 974.0,363.5" fill="#000"/>
<polygon points="967.0,383.6 991.0,383.6 979.0,363.1" fill="#000"/>
<polygon points="971.0,383.3 995.0,383.3 983.0,362.8" fill="#000"/>
<polygon points="974.5,383.1 998.5,383.1 986.5,362.6" fill="#000"/>
<polygon points="983.9,380.1 1003.1,380.1 993.5,364.0" fill="#fff" stroke="#000" stroke-width="2.8" stroke-linejoin="miter"/>
</g>
</g>
<g stroke="#000" fill="none">
<line x1="122.6" y1="17.6" x2="1000.9" y2="17.6" stroke-width="4.8"/>
<line x1="127.4" y1="667.9" x2="1000.9" y2="667.9" stroke-width="4.8"/>
<line x1="134.4" y1="15.2" x2="134.4" y2="683.3" stroke-width="4.8"/>
<line x1="998.5" y1="15.2" x2="998.5" y2="683.3" stroke-width="4.8"/>
<line x1="122.6" y1="638.0" x2="134.4" y2="638.0" stroke-width="4.0"/>
<line x1="122.6" y1="575.9" x2="134.4" y2="575.9" stroke-width="4.0"/>
<line x1="122.6" y1="513.9" x2="134.4" y2="513.9" stroke-width="4.0"/>
<line x1="122.6" y1="451.9" x2="134.4" y2="451.9" stroke-width="4.0"/>
<line x1="122.6" y1="389.9" x2="134.4" y2="389.9" stroke-width="4.0"/>
<line x1="122.6" y1="327.8" x2="134.4" y2="327.8" stroke-width="4.0"/>
<line x1="122.6" y1="265.8" x2="134.4" y2="265.8" stroke-width="4.0"/>
<line x1="122.6" y1="203.8" x2="134.4" y2="203.8" stroke-width="4.0"/>
<line x1="122.6" y1="141.7" x2="134.4" y2="141.7" stroke-width="4.0"/>
<line x1="122.6" y1="79.7" x2="134.4" y2="79.7" stroke-width="4.0"/>
<line x1="127.4" y1="607.0" x2="134.4" y2="607.0" stroke-width="3.3"/>
<line x1="127.4" y1="544.9" x2="134.4" y2="544.9" stroke-width="3.3"/>
<line x1="127.4" y1="482.9" x2="134.4" y2="482.9" stroke-width="3.3"/>
<line x1="127.4" y1="420.9" x2="134.4" y2="420.9" stroke-width="3.3"/>
<line x1="127.4" y1="358.8" x2="134.4" y2="358.8" stroke-width="3.3"/>
<line x1="127.4" y1="296.8" x2="134.4" y2="296.8" stroke-width="3.3"/>
<line x1="127.4" y1="234.8" x2="134.4" y2="234.8" stroke-width="3.3"/>
<line x1="127.4" y1="172.7" x2="134.4" y2="172.7" stroke-width="3.3"/>
<line x1="127.4" y1="110.7" x2="134.4" y2="110.7" stroke-width="3.3"/>
<line x1="127.4" y1="48.7" x2="134.4" y2="48.7" stroke-width="3.3"/>
<line x1="220.8" y1="667.9" x2="220.8" y2="676.4" stroke-width="3.6"/>
<line x1="307.2" y1="667.9" x2="307.2" y2="683.3" stroke-width="4.4"/>
<line x1="393.6" y1="667.9" x2="393.6" y2="676.4" stroke-width="3.6"/>
<line x1="480.0" y1="667.9" x2="480.0" y2="683.3" stroke-width="4.4"/>
<line x1="566.5" y1="667.9" x2="566.5" y2="676.4" stroke-width="3.6"/>
<line x1="652.9" y1="667.9" x2="652.9" y2="683.3" stroke-width="4.4"/>
<line x1="739.3" y1="667.9" x2="739.3" y2="676.4" stroke-width="3.6"/>
<line x1="825.7" y1="667.9" x2="825.7" y2="683.3" stroke-width="4.4"/>
<line x1="912.1" y1="667.9" x2="912.1" y2="676.4" stroke-width="3.6"/>
</g>
<g font-size="26" stroke="#000" stroke-width="0.75" stroke-linejoin="round">
<path transform="translate(69.62 646.97) scale(0.012695 -0.015234)" d="M763 0H583V1147Q518 1085 412.5 1023T223 930V1104Q374 1175 487 1276T647 1472H763Z" fill="#000" vector-effect="non-scaling-stroke"/>
<text x="113.0" y="647.0" text-anchor="end" transform="translate(0 646.97) scale(1 1.2) translate(0 -646.97)">00</text>
<text x="113.0" y="584.9" text-anchor="end" transform="translate(0 584.94) scale(1 1.2) translate(0 -584.94)">200</text>
<text x="113.0" y="522.9" text-anchor="end" transform="translate(0 522.91) scale(1 1.2) translate(0 -522.91)">300</text>
<text x="113.0" y="460.9" text-anchor="end" transform="translate(0 460.88) scale(1 1.2) translate(0 -460.88)">400</text>
<text x="113.0" y="398.9" text-anchor="end" transform="translate(0 398.85) scale(1 1.2) translate(0 -398.85)">500</text>
<text x="113.0" y="336.8" text-anchor="end" transform="translate(0 336.82) scale(1 1.2) translate(0 -336.82)">600</text>
<text x="113.0" y="274.8" text-anchor="end" transform="translate(0 274.79) scale(1 1.2) translate(0 -274.79)">700</text>
<text x="113.0" y="212.8" text-anchor="end" transform="translate(0 212.76) scale(1 1.2) translate(0 -212.76)">800</text>
<text x="113.0" y="150.7" text-anchor="end" transform="translate(0 150.73) scale(1 1.2) translate(0 -150.73)">900</text>
<path transform="translate(55.16 88.70) scale(0.012695 -0.015234)" d="M763 0H583V1147Q518 1085 412.5 1023T223 930V1104Q374 1175 487 1276T647 1472H763Z" fill="#000" vector-effect="non-scaling-stroke"/>
<text x="113.0" y="88.7" text-anchor="end" transform="translate(0 88.70) scale(1 1.2) translate(0 -88.70)">000</text>
<path transform="translate(55.16 25.67) scale(0.012695 -0.015234)" d="M763 0H583V1147Q518 1085 412.5 1023T223 930V1104Q374 1175 487 1276T647 1472H763Z" fill="#000" vector-effect="non-scaling-stroke"/>
<path transform="translate(69.62 25.67) scale(0.012695 -0.015234)" d="M763 0H583V1147Q518 1085 412.5 1023T223 930V1104Q374 1175 487 1276T647 1472H763Z" fill="#000" vector-effect="non-scaling-stroke"/>
<text x="113.0" y="25.7" text-anchor="end" transform="translate(0 25.67) scale(1 1.2) translate(0 -25.67)">00</text>
<text x="134.4" y="711.6" text-anchor="middle" transform="translate(0 711.60) scale(1 1.2) translate(0 -711.60)">0.0</text>
<text x="307.2" y="711.6" text-anchor="middle" transform="translate(0 711.60) scale(1 1.2) translate(0 -711.60)">0.2</text>
<text x="480.0" y="711.6" text-anchor="middle" transform="translate(0 711.60) scale(1 1.2) translate(0 -711.60)">0.4</text>
<text x="652.9" y="711.6" text-anchor="middle" transform="translate(0 711.60) scale(1 1.2) translate(0 -711.60)">0.6</text>
<text x="825.7" y="711.6" text-anchor="middle" transform="translate(0 711.60) scale(1 1.2) translate(0 -711.60)">0.8</text>
<g clip-path="url(#cp)"><path transform="translate(980.30 711.60) scale(0.012695 -0.015234)" d="M763 0H583V1147Q518 1085 412.5 1023T223 930V1104Q374 1175 487 1276T647 1472H763Z" fill="#000" vector-effect="non-scaling-stroke"/><text x="994.76" y="711.6" transform="translate(0 711.60) scale(1 1.2) translate(0 -711.60)">.0</text><text x="1012.3" y="711.6" transform="translate(0 711.60) scale(1 1.2) translate(0 -711.60)">0</text></g>
</g>
<text x="416.8" y="750.8" font-size="31" font-weight="bold" letter-spacing="-0.63"><tspan letter-spacing="-1.2">Relative</tspan><tspan x="539.6">pressure</tspan><tspan x="667.6">(P/P</tspan><tspan font-size="18.5" dy="12.8">0</tspan><tspan dy="-12.8" dx="0.6">)</tspan></text>
<text transform="translate(31.3 512.3) rotate(-90)" font-size="32" font-weight="bold" letter-spacing="-0.8">vol. adsorbed (ml/g, STD)</text>
<text class="ser" transform="translate(699.3 85) scale(1.03 1)" font-size="37">S-MCM-41</text>
<text class="ser" transform="translate(753.4 289) scale(1.039 1)" font-size="37">MCM-41</text>
<text class="ser" transform="translate(754.5 431.3) scale(1.029 1)" font-size="24.7">COPANI-MCM-41</text>
<text class="ser" transform="translate(712.1 529.8) scale(1.039 1)" font-size="30.8">PANI-MCM-41</text>
</g>
</svg></body></html>
